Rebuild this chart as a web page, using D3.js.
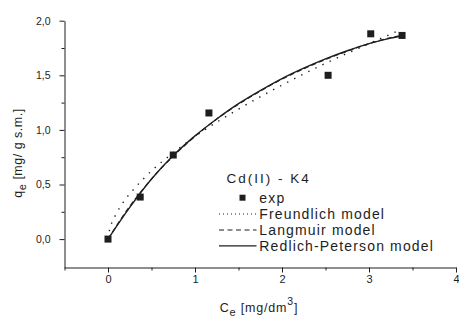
<!DOCTYPE html>
<html>
<head>
<meta charset="utf-8">
<script src="https://cdn.jsdelivr.net/npm/d3@7"></script>
<style>
  body { margin: 0; background: #fff; }
  svg { display: block; font-family: "Liberation Sans", Arial, sans-serif; }
</style>
</head>
<body>
<div id="chart"></div>
<script>
// experimental points
const expC = [0, 0.37, 0.75, 1.16, 2.53, 3.02, 3.38];
const expQ = [0, 0.385, 0.77, 1.155, 1.50, 1.88, 1.865];

// model curves
const freundC = [0, 0.02, 0.05, 0.1, 0.2, 0.3, 0.5, 0.75, 1.0, 1.5, 2.0, 2.5, 3.0, 3.37];
const freundQ = [0, 0.094, 0.16, 0.24, 0.365, 0.46, 0.625, 0.79, 0.94, 1.19, 1.41, 1.61, 1.79, 1.92];

const langC = [0, 0.25, 0.5, 0.75, 1.0, 1.25, 1.5, 1.75, 2.0, 2.25, 2.5, 2.75, 3.0, 3.25, 3.37];
const langQ = [0, 0.30, 0.55, 0.76, 0.94, 1.10, 1.235, 1.355, 1.465, 1.56, 1.645, 1.72, 1.79, 1.845, 1.865];

const rpC = [0, 0.25, 0.5, 0.75, 1.0, 1.25, 1.5, 1.75, 2.0, 2.25, 2.5, 2.75, 3.0, 3.25, 3.37];
const rpQ = [0, 0.29, 0.55, 0.765, 0.945, 1.10, 1.24, 1.36, 1.47, 1.565, 1.65, 1.725, 1.79, 1.84, 1.86];

const xMajor = [0, 1, 2, 3, 4];
const xMinor = [-0.5, 0.5, 1.5, 2.5, 3.5];
const yMajor = [0, 0.5, 1.0, 1.5, 2.0];
const yMinor = [0.25, 0.75, 1.25, 1.75];

const legendTitle = "Cd(II) - K4";
const legendItems = [
  {label: "exp", type: "square"},
  {label: "Freundlich model", type: "dot"},
  {label: "Langmuir model", type: "dash"},
  {label: "Redlich-Peterson model", type: "solid"}
];

const width = 459, height = 320;
const ink = "#1e1e1e";

const svg = d3.select("#chart").append("svg")
  .attr("width", width)
  .attr("height", height);

svg.append("rect").attr("width", width).attr("height", height).attr("fill", "#fff");

const x = d3.scaleLinear().domain([-0.5, 4]).range([64.5, 456]);
const y = d3.scaleLinear().domain([-0.26, 2.0]).range([267.5, 20.7]);

const comma = d => d3.format(".1f")(d).replace(".", ",");

// axes
const gx = svg.append("g").attr("transform", `translate(0,${y(-0.26)})`);
gx.call(d3.axisBottom(x).tickValues(xMajor).tickSize(5).tickSizeOuter(0).tickPadding(3).tickFormat(d3.format("d")));
gx.append("g").call(d3.axisBottom(x).tickValues(xMinor).tickSize(3).tickSizeOuter(0).tickFormat(""))
  .select(".domain").remove();

const gy = svg.append("g").attr("transform", `translate(${x(-0.5)},0)`);
gy.call(d3.axisLeft(y).tickValues(yMajor).tickSize(5).tickSizeOuter(0).tickPadding(9).tickFormat(comma));
gy.append("g").call(d3.axisLeft(y).tickValues(yMinor).tickSize(3).tickSizeOuter(0).tickFormat(""))
  .select(".domain").remove();

svg.selectAll(".domain, .tick line").attr("stroke", ink).attr("stroke-width", 1);
gx.selectAll(".tick text").attr("font-size", 11).attr("fill", ink).style("font-family", "Liberation Sans, Arial, sans-serif");
gy.selectAll(".tick text").attr("font-size", 10.5).attr("fill", ink).style("font-family", "Liberation Sans, Arial, sans-serif");

// axis titles
const xt = svg.append("text")
  .attr("x", 259).attr("y", 311.5)
  .attr("text-anchor", "middle")
  .attr("font-size", 12.5).attr("fill", ink)
  .style("letter-spacing", "0.8px");
xt.append("tspan").text("C");
xt.append("tspan").attr("dy", 4).attr("font-size", 11).text("e");
xt.append("tspan").attr("dy", -4).text(" [mg/dm");
xt.append("tspan").attr("dy", -7).attr("font-size", 10.5).text("3");
xt.append("tspan").attr("dy", 7).text("]");

const yt = svg.append("text")
  .attr("transform", "translate(22,153) rotate(-90)")
  .attr("text-anchor", "middle")
  .attr("font-size", 12.5).attr("fill", ink)
  .style("letter-spacing", "0.5px");
yt.append("tspan").text("q");
yt.append("tspan").attr("dy", 4).attr("font-size", 11).text("e");
yt.append("tspan").attr("dy", -4).text(" [mg/ g s.m.]");

// curves
const line = d3.line().x(d => x(d[0])).y(d => y(d[1])).curve(d3.curveMonotoneX);

svg.append("path")
  .datum(freundC.map((c, i) => [c, freundQ[i]]))
  .attr("d", line).attr("fill", "none").attr("stroke", ink)
  .attr("stroke-width", 1.4).attr("stroke-dasharray", "1.4,6.5");

svg.append("path")
  .datum(langC.map((c, i) => [c, langQ[i]]))
  .attr("d", line).attr("fill", "none").attr("stroke", ink)
  .attr("stroke-width", 1.2).attr("stroke-dasharray", "5,3");

svg.append("path")
  .datum(rpC.map((c, i) => [c, rpQ[i]]))
  .attr("d", line).attr("fill", "none").attr("stroke", ink)
  .attr("stroke-width", 1.4);

// experimental squares
const sq = 7;
svg.selectAll("rect.exp")
  .data(expC.map((c, i) => [c, expQ[i]]))
  .enter().append("rect")
  .attr("class", "exp")
  .attr("x", d => x(d[0]) - sq / 2)
  .attr("y", d => y(d[1]) - sq / 2)
  .attr("width", sq).attr("height", sq)
  .attr("fill", ink);

// legend
const lg = svg.append("g");
lg.append("text")
  .attr("x", 226.5).attr("y", 183.3)
  .attr("font-size", 13.5).attr("fill", ink)
  .style("letter-spacing", "2px")
  .text(legendTitle);

const rowY = [197.7, 214, 230, 245.8];
legendItems.forEach((it, i) => {
  const cy = rowY[i];
  if (it.type === "square") {
    lg.append("rect").attr("x", 239.5).attr("y", cy - 3).attr("width", 6).attr("height", 6).attr("fill", ink);
  } else {
    const l = lg.append("line")
      .attr("x1", 219).attr("x2", 256.5)
      .attr("y1", cy).attr("y2", cy)
      .attr("stroke", ink).attr("stroke-width", it.type === "solid" ? 1.3 : 1.1);
    if (it.type === "dot") l.attr("stroke-dasharray", "1,3");
    if (it.type === "dash") l.attr("stroke-dasharray", "5,3.5");
  }
  lg.append("text")
    .attr("x", 259.3).attr("y", cy + 4.8)
    .attr("font-size", 14).attr("fill", ink)
    .style("letter-spacing", "1.15px")
    .text(it.label);
});
</script>
</body>
</html>
